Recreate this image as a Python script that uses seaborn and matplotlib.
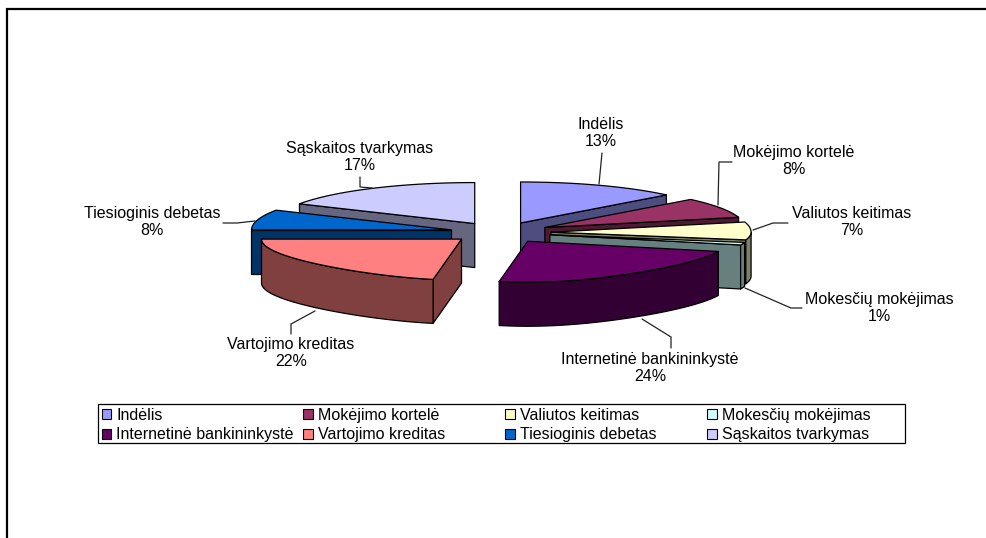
import numpy as np
import matplotlib
matplotlib.use("Agg")
import matplotlib.pyplot as plt
from matplotlib.patches import Patch, Rectangle
import seaborn as sns

# Survey shares per banking service
services = ["Indėlis", "Mokėjimo kortelė", "Valiutos keitimas", "Mokesčių mokėjimas",
            "Internetinė bankininkystė", "Vartojimo kreditas", "Tiesioginis debetas",
            "Sąskaitos tvarkymas"]
shares = [13, 8, 7, 1, 24, 22, 8, 17]
top_colors = ["#9999FF", "#993366", "#FFFFCC", "#CCFFFF", "#660066", "#FF8080", "#0066CC", "#CCCCFF"]
side_colors = ["#4D4D80", "#4D1A33", "#808066", "#668080", "#330033", "#804040", "#003366", "#666680"]

# Label centre and leader polyline for each slice, in figure pixels
label_xy = [(601, 133), (794, 161), (852, 222), (879, 308), (650, 368), (291, 353), (152, 222), (360, 157)]
leaders = [
    [(602, 153), (599, 184)],
    [(732, 162), (719, 162), (718, 205)],
    [(788, 223), (773, 223), (753, 230)],
    [(802, 308), (791, 308), (745, 288)],
    [(671, 348), (671, 337), (642, 319)],
    [(291, 334), (291, 324), (315, 311)],
    [(223, 223), (237, 223), (255, 221)],
    [(360, 177), (360, 187), (372, 188)],
]

# Projection of the tilted pie
CX, CY = 500.5, 232.5
RX, RY = 200.0, 41.0
DEPTH = 44.0
EXPLODE = 0.253
FONT_SIZE = 11.5

sns.set_theme(style="white")
plt.rcParams["font.family"] = ["Liberation Sans", "DejaVu Sans"]

fig = plt.figure(figsize=(9.87, 5.38), dpi=100, facecolor="white")
ax = fig.add_axes([0, 0, 1, 1])
ax.set_xlim(0, 987)
ax.set_ylim(538, 0)
ax.axis("off")


def rim(theta):
    """Screen offset of a rim point at clockwise angle theta (degrees from the back)."""
    t = np.radians(theta)
    front = np.maximum(-np.cos(t), 0.0)
    return RX * np.sin(t) * (1 - 0.25 * front ** 2), -RY * np.cos(t)


def face(xs, ys, color, z):
    ax.fill(xs, ys, facecolor=color, edgecolor="black", linewidth=0.9, joinstyle="round", zorder=z)


edges = np.concatenate([[0], np.cumsum(shares)]) * 3.6
mids = (edges[:-1] + edges[1:]) / 2
# Paint from the back of the pie to the front
order = np.argsort(-np.cos(np.radians(mids)))

for rank, i in enumerate(order):
    a, b = edges[i], edges[i + 1]
    ax0 = CX + EXPLODE * RX * np.sin(np.radians(mids[i]))
    ay0 = CY - EXPLODE * RY * np.cos(np.radians(mids[i]))
    z = 2 + rank * 0.1

    # Radial wall on the leading edge
    if np.sin(np.radians(a)) < 0:
        dx, dy = rim(a)
        face([ax0, ax0 + dx, ax0 + dx, ax0], [ay0, ay0 + dy, ay0 + dy + DEPTH, ay0 + DEPTH], side_colors[i], z)
    # Radial wall on the trailing edge
    if np.sin(np.radians(b)) > 0:
        dx, dy = rim(b)
        face([ax0, ax0 + dx, ax0 + dx, ax0], [ay0, ay0 + dy, ay0 + dy + DEPTH, ay0 + DEPTH], side_colors[i], z)
    # Curved outer wall, front half only
    lo, hi = max(a, 90), min(b, 270)
    if lo < hi:
        th = np.linspace(lo, hi, 60)
        dx, dy = rim(th)
        xs = np.concatenate([ax0 + dx, (ax0 + dx)[::-1]])
        ys = np.concatenate([ay0 + dy, (ay0 + dy + DEPTH)[::-1]])
        face(xs, ys, side_colors[i], z + 0.01)
    # Top face
    th = np.linspace(a, b, 80)
    dx, dy = rim(th)
    face(np.r_[ax0, ax0 + dx], np.r_[ay0, ay0 + dy], top_colors[i], z + 0.02)

for name, share, (lx, ly), path in zip(services, shares, label_xy, leaders):
    ax.text(lx, ly, f"{name}\n{share}%", ha="center", va="center", fontsize=FONT_SIZE,
            color="black", linespacing=1.16, zorder=10)
    px, py = zip(*path)
    ax.plot(px, py, color="#222222", lw=0.9, zorder=9, solid_joinstyle="miter")

# Chart border: only the top and left edges fall inside the frame
ax.plot([7, 7, 987], [538, 9, 9], color="black", lw=1.6, solid_joinstyle="miter", zorder=1)

# Legend box with equal-width columns inside it
ax.add_patch(Rectangle((98, 404), 807, 39, facecolor="white", edgecolor="black", linewidth=0.9, zorder=10.5))

# Legend fills row by row, so columns are handed over in reading order
idx = [0, 4, 1, 5, 2, 6, 3, 7]
handles = [Patch(facecolor=top_colors[i], edgecolor="black", linewidth=0.8, label=services[i]) for i in idx]
leg = ax.legend(handles=handles, ncol=4, loc="upper left", bbox_to_anchor=(98 / 987, 1 - 404 / 538),
                bbox_transform=fig.transFigure, borderaxespad=0, frameon=False, fontsize=FONT_SIZE,
                labelcolor="black", handlelength=0.62, handleheight=0.62, handletextpad=0.3,
                columnspacing=0.4, labelspacing=0.3, borderpad=0.22)
leg._legend_handle_box.mode = "equal"
leg._legend_handle_box.sep = 7
leg.set_zorder(11)

fig.savefig("out.png", dpi=100)
